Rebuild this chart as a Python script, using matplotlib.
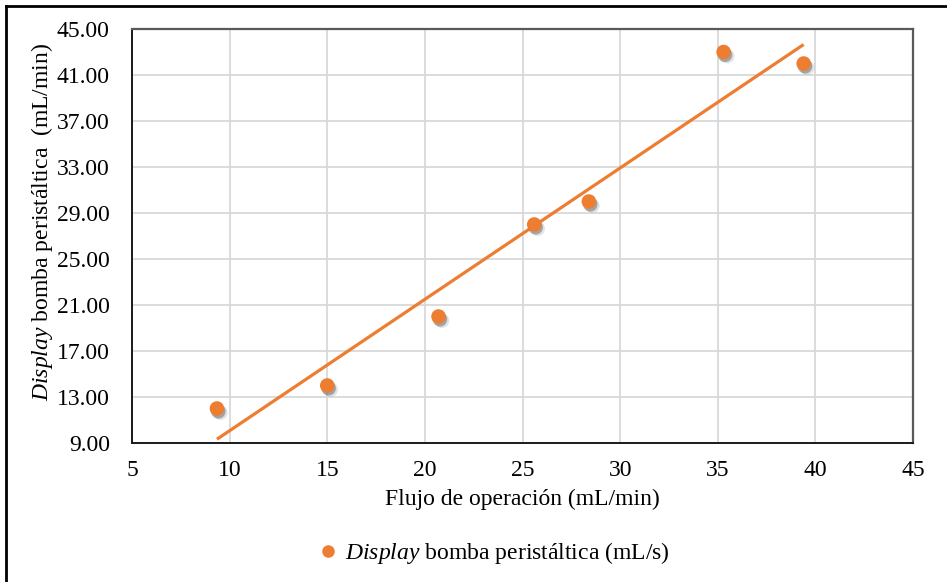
import numpy as np
import matplotlib
matplotlib.use("Agg")
import matplotlib.pyplot as plt
import matplotlib.patheffects as pe
from matplotlib.lines import Line2D

plt.rcParams["font.family"] = ["Liberation Serif", "DejaVu Serif"]
plt.rcParams["mathtext.fontset"] = "custom"
plt.rcParams["mathtext.rm"] = "Liberation Serif"
plt.rcParams["mathtext.it"] = "Liberation Serif:italic"

# Operating flow (mL/min) vs. peristaltic pump display reading
flujo = [9.35, 15.0, 20.7, 25.6, 28.4, 35.3, 39.4]
display = [12.0, 14.0, 20.0, 28.0, 30.0, 43.0, 42.0]

x_ticks = [5, 10, 15, 20, 25, 30, 35, 40, 45]
y_ticks = [9, 13, 17, 21, 25, 29, 33, 37, 41, 45]

orange = "#ED7D31"
fs = 17

fig = plt.figure(figsize=(9.47, 5.82), dpi=100)
ax = fig.add_axes([132 / 947, 1 - 443 / 582, (913 - 132) / 947, (443 - 29) / 582])

ax.set_xlim(5, 45)
ax.set_ylim(9, 45)
ax.set_xticks(x_ticks)
ax.set_yticks(y_ticks)
ax.set_yticklabels([f"{v:.2f}" for v in y_ticks])
ax.tick_params(axis="both", length=0, labelsize=fs, colors="#000000")
ax.tick_params(axis="x", pad=12)
ax.tick_params(axis="y", pad=16)
ax.grid(True, color="#D9D9D9", linewidth=1.3)
ax.set_axisbelow(True)

for side in ["left", "bottom"]:
    ax.spines[side].set_color("#1a1a1a")
    ax.spines[side].set_linewidth(1.4)
for side in ["top", "right"]:
    ax.spines[side].set_color("#595959")
    ax.spines[side].set_linewidth(1.6)

# Linear trendline fitted to the data
xs = np.array(flujo)
ys = np.array(display)
m, b = np.polyfit(xs, ys, 1)
xl = np.array([xs.min(), xs.max()])
ax.plot(xl, m * xl + b, color=orange, linewidth=2.3, solid_capstyle="butt", zorder=3)

ax.scatter(flujo, display, s=110, color=orange, edgecolors="none", zorder=4,
           path_effects=[pe.SimplePatchShadow(offset=(2.5, -3), shadow_rgbFace="#b0b0b0", alpha=0.35),
                         pe.SimplePatchShadow(offset=(1, -2), shadow_rgbFace="#555555", alpha=0.45),
                         pe.Normal()])

ax.set_xlabel("Flujo de operación (mL/min)", fontsize=fs, labelpad=6)
ax.set_ylabel(r"$\it{Display}$ bomba peristáltica  (mL/min)", fontsize=fs, labelpad=1)
ax.yaxis.label.set_y(0.535)

handle = Line2D([], [], linestyle="none", marker="o", markersize=9,
                markerfacecolor=orange, markeredgecolor="none")
fig.legend([handle], [r"$\it{Display}$ bomba peristáltica (mL/s)"],
           loc="center", bbox_to_anchor=(492 / 947, 1 - 553 / 582),
           frameon=False, fontsize=fs, handletextpad=0.1, handlelength=1.2)

# Outer border of the chart area
fig.add_artist(Line2D([6 / 947, 6 / 947], [0, 1 - 6 / 582], transform=fig.transFigure,
                      color="black", linewidth=2))
fig.add_artist(Line2D([6 / 947, 1], [1 - 6 / 582, 1 - 6 / 582], transform=fig.transFigure,
                      color="black", linewidth=2))

fig.savefig("out.png", dpi=100)
